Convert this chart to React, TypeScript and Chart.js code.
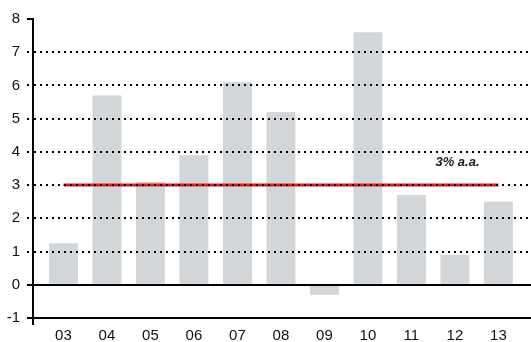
import React, { useEffect, useRef } from "react";
import { Chart, registerables } from "chart.js";

Chart.register(...registerables);

const categories = ["03", "04", "05", "06", "07", "08", "09", "10", "11", "12", "13"];
const growth = [1.25, 5.7, 3.1, 3.9, 6.1, 5.2, -0.3, 7.6, 2.7, 0.9, 2.5];
const averageLevel = 3;
const averageFrom = 0;
const averageTo = 10;
const noteText = "3% a.a.";
const noteX = 9.06;
const noteY = 3.67;
const yMin = -1;
const yMax = 8;
const xMin = -0.7;
const xMax = 10.75;

const FONT = "'Liberation Sans', Arial, sans-serif";

const overlayPlugin = {
  id: "overlay",
  afterDraw(chart: any) {
    const { ctx, scales, chartArea } = chart;
    const x = scales.x;
    const y = scales.y;
    ctx.save();
    ctx.strokeStyle = "#000";
    ctx.lineWidth = 2;
    // solid zero line
    const y0 = Math.round(y.getPixelForValue(0));
    ctx.beginPath();
    ctx.moveTo(chartArea.left - 6, y0);
    ctx.lineTo(chartArea.right, y0);
    ctx.stroke();
    // solid bottom axis line and axis foot
    const yb = Math.round(y.getPixelForValue(yMin));
    ctx.beginPath();
    ctx.moveTo(chartArea.left - 6, yb);
    ctx.lineTo(chartArea.right, yb);
    ctx.stroke();
    const xl = Math.round(chartArea.left);
    ctx.beginPath();
    ctx.moveTo(xl, Math.round(chartArea.top) - 1);
    ctx.lineTo(xl, yb + 7);
    ctx.stroke();
    // annotation
    ctx.fillStyle = "#1a1a1a";
    ctx.font = `italic bold 13px ${FONT}`;
    ctx.textAlign = "center";
    ctx.textBaseline = "middle";
    ctx.fillText(noteText, x.getPixelForValue(noteX), y.getPixelForValue(noteY));
    ctx.restore();
  },
};

export default function App() {
  const ref = useRef<HTMLCanvasElement>(null);

  useEffect(() => {
    const canvas = ref.current!;
    const chart = new Chart(canvas, {
      type: "bar",
      data: {
        datasets: [
          {
            type: "line",
            data: [
              { x: averageFrom, y: averageLevel },
              { x: averageTo, y: averageLevel },
            ],
            borderColor: "#e3161e",
            borderWidth: 3,
            pointRadius: 0,
            order: 0,
          } as any,
          {
            type: "bar",
            data: categories.map((_, i) => ({ x: i, y: growth[i] })),
            backgroundColor: "#d3d6d9",
            barPercentage: 0.667,
            categoryPercentage: 1,
            order: 1,
          } as any,
        ],
      },
      options: {
        responsive: false,
        animation: false,
        layout: { padding: { top: 19, right: 0, left: 0, bottom: 0 } },
        plugins: {
          legend: { display: false },
          tooltip: { enabled: false },
        },
        scales: {
          x: {
            type: "linear",
            offset: false,
            min: xMin,
            max: xMax,
            afterBuildTicks: (s: any) => {
              s.ticks = categories.map((_, i) => ({ value: i }));
            },
            afterFit: (s: any) => {
              s.height = 24;
            },
            grid: { display: false, offset: false, drawTicks: false },
            border: { display: false },
            ticks: {
              autoSkip: false,
              maxRotation: 0,
              padding: 9,
              color: "#111",
              font: { family: FONT, size: 15 },
              callback: (v: any) => {
                const n = Number(v);
                return Number.isInteger(n) && categories[n] !== undefined ? categories[n] : "";
              },
            },
          },
          y: {
            min: yMin,
            max: yMax,
            afterFit: (s: any) => {
              s.width = 33;
            },
            ticks: {
              stepSize: 1,
              padding: 7,
              color: "#111",
              font: { family: FONT, size: 15 },
            },
            border: { display: true, color: "#000", width: 2, dash: [2, 4], z: 1 },
            grid: {
              z: 1,
              lineWidth: 2,
              color: (c: any) => (c.tick && c.tick.value === yMax ? "rgba(0,0,0,0)" : "#000"),
              tickLength: 6,
              tickWidth: 2,
              tickColor: "#000",
              tickBorderDash: (c: any) =>
                c.tick && (c.tick.value === yMax || c.tick.value === 0 || c.tick.value === yMin) ? [] : [2, 4],
            },
          },
        },
      },
      plugins: [overlayPlugin],
    } as any);
    return () => chart.destroy();
  }, []);

  return (
    <div style={{ position: "fixed", left: 0, top: 0, width: 531, height: 342, background: "#fff" }}>
      <canvas ref={ref} width={531} height={342} style={{ display: "block" }} />
    </div>
  );
}
